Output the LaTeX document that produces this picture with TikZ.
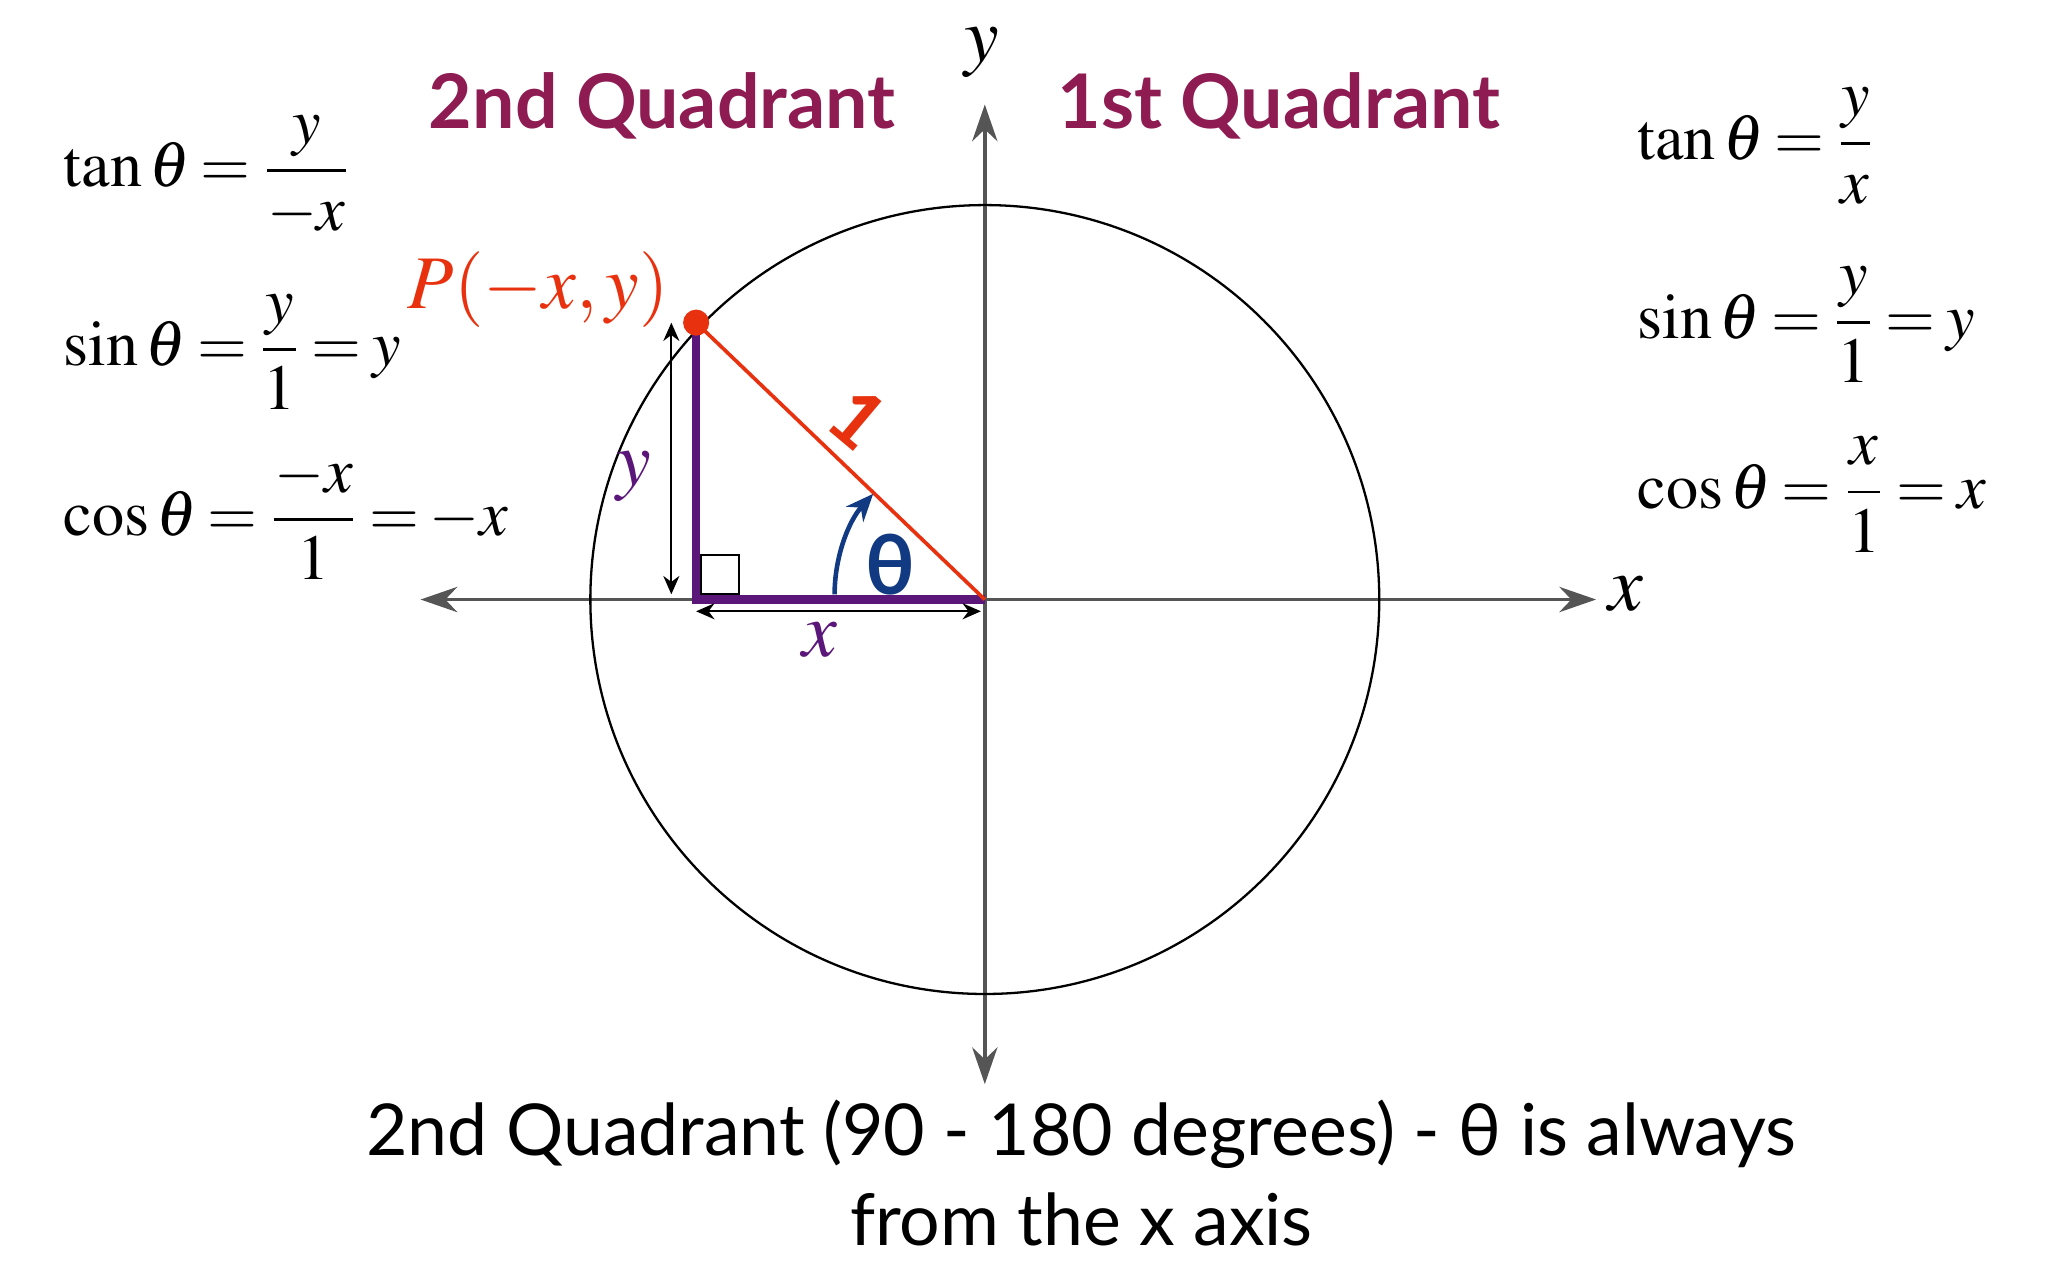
\documentclass[tikz,border=0pt]{standalone}
\usepackage{amsmath}
\usepackage{mathptmx}
\usepackage{fontspec}
\setmainfont{Liberation Serif}
\newfontfamily\gillfont{Lato}
\usepackage{tikz}
\usetikzlibrary{arrows.meta}
\thickmuskip=3mu plus 1mu

\definecolor{axisgray}{RGB}{85,85,85}
\definecolor{quadred}{RGB}{142,27,82}
\definecolor{pred}{RGB}{232,50,15}
\definecolor{legpurple}{RGB}{90,22,120}
\definecolor{thetablue}{RGB}{18,58,130}

\tikzset{
  axis/.style={draw=axisgray, line width=0.8pt, {Stealth[length=8pt,width=5.5pt]}-{Stealth[length=8pt,width=5.5pt]}},
  leg/.style={draw=legpurple, line width=1.8pt, line join=miter},
  dim/.style={draw=black, line width=0.45pt, {Stealth[length=4pt,width=3.5pt]}-{Stealth[length=4pt,width=3.5pt]}},
  eq/.style={anchor=base west, inner sep=0pt, font=\fontsize{14}{16}\selectfont},
  quad/.style={text=quadred, font=\gillfont\bfseries\fontsize{16.4}{18}\selectfont},
  big/.style={font=\fontsize{17}{20}\selectfont}
}

\begin{document}
\begin{tikzpicture}
\useasboundingbox (-7.54,-5.21) rectangle (8.14,4.59);
% axes and unit circle
\coordinate (o) at (0,0);
\coordinate (xl) at (-4.32,0);
\coordinate (xr) at (4.68,0);
\coordinate (yt) at (0,3.79);
\coordinate (yb) at (0,-3.71);
\draw [axis] (xl) -- (xr);
\draw [axis] (yb) -- (yt);
\node [big] (xlab) at (4.91,0.04) {$x$};
\node [big] (ylab) at (-0.02,4.19) {$y$};
\draw [line width=0.5pt] (o) circle (3.02);
% triangle
\coordinate (p) at (-2.21,2.12);
\coordinate (c) at (-2.21,0);
\draw [line width=0.45pt] ([shift={(0.04,0.04)}]c) rectangle ++(0.29,0.3);
\draw [leg] (p) -- (c) -- (o);
\draw [draw=pred, line width=0.8pt] (p) -- (o);
\fill [pred] (p) circle (0.1);
\draw [dim] ([xshift=-0.19cm]p) -- ([shift={(-0.19,0.04)}]c);
\draw [dim] ([yshift=-0.09cm]c) -- ([shift={(-0.03,-0.09)}]o);
\node [big, text=legpurple] (ylen) at (-2.69,0.94) {$y$};
\node [big, text=legpurple] (xlen) at (-1.26,-0.31) {$x$};
\node [text=pred, rotate=-40, font=\gillfont\bfseries\fontsize{17}{18}\selectfont] (one) at (-0.97,1.39) {1};
\node [text=pred, font=\fontsize{16.5}{20}\selectfont] (plab) at (-3.42,2.37) {$P(-x,y)$};
% angle
\draw [draw=thetablue, line width=1pt, -{Stealth[length=6pt,width=5pt]}] (-1.15,0.04) arc (180:138:1.15);
\node [text=thetablue, font=\gillfont\bfseries\fontsize{18}{20}\selectfont] (theta) at (-0.72,0.27) {θ};
% titles
\node [quad] (q2) at (-2.47,3.78) {2nd Quadrant};
\node [quad] (q1) at (2.25,3.78) {1st Quadrant};
% left formulas
\node [eq] (tanl) at (-7.06,3.16) {$\tan\theta = \dfrac{y}{-x}$};
\node [eq] (sinl) at (-7.06,1.79) {$\sin\theta = \dfrac{y}{1} = y$};
\node [eq] (cosl) at (-7.06,0.49) {$\cos\theta = \dfrac{-x}{1} = -x$};
% right formulas
\node [eq] (tanr) at (4.99,3.37) {$\tan\theta = \dfrac{y}{x}$};
\node [eq] (sinr) at (4.99,2.00) {$\sin\theta = \dfrac{y}{1} = y$};
\node [eq] (cosr) at (4.99,0.70) {$\cos\theta = \dfrac{x}{1} = x$};
% caption
\node [align=center, font=\gillfont\fontsize{15.6}{19.5}\selectfont] (cap) at (0.74,-4.39)
  {2nd Quadrant (90 - 180 degrees) - θ is always\\from the x axis};
\end{tikzpicture}
\end{document}
